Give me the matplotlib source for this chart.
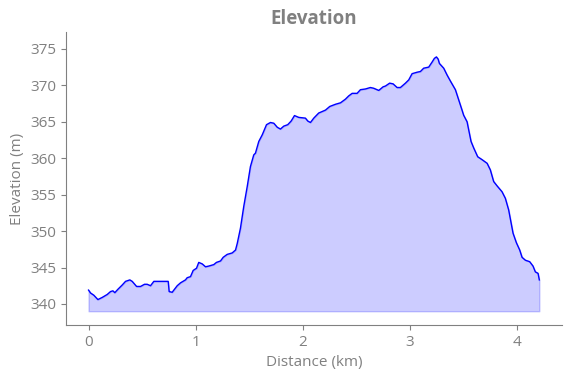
import matplotlib.pyplot as plt

plt.rcParams['font.family'] = ['Open Sans', 'DejaVu Sans']

# distance (km) and elevation (m)
distance = [0.000, 0.019, 0.049, 0.087, 0.128, 0.174, 0.205, 0.227, 0.245, 0.273,
            0.314, 0.345, 0.385, 0.407, 0.448, 0.485, 0.522, 0.547, 0.578, 0.609,
            0.743, 0.752, 0.780, 0.827, 0.858, 0.904, 0.920, 0.951, 0.976, 1.007,
            1.028, 1.060, 1.091, 1.122, 1.168, 1.193, 1.231, 1.256, 1.293, 1.340,
            1.371, 1.387, 1.417, 1.448, 1.480, 1.510, 1.541, 1.557, 1.588, 1.620,
            1.660, 1.697, 1.728, 1.760, 1.790, 1.821, 1.858, 1.890, 1.921, 1.961,
            2.023, 2.045, 2.070, 2.101, 2.147, 2.210, 2.250, 2.303, 2.350, 2.396,
            2.427, 2.459, 2.505, 2.536, 2.583, 2.629, 2.660, 2.707, 2.748, 2.769,
            2.809, 2.841, 2.878, 2.909, 2.956, 2.987, 3.018, 3.065, 3.096, 3.126,
            3.173, 3.205, 3.226, 3.245, 3.261, 3.273, 3.313, 3.345, 3.375, 3.422,
            3.453, 3.484, 3.499, 3.531, 3.546, 3.568, 3.593, 3.630, 3.671, 3.718,
            3.748, 3.779, 3.811, 3.857, 3.888, 3.919, 3.942, 3.960, 3.991, 4.022,
            4.044, 4.075, 4.115, 4.146, 4.168, 4.193, 4.205]
elevation = [341.9, 341.5, 341.2, 340.6, 340.9, 341.3, 341.7, 341.8, 341.55, 342.0,
             342.6, 343.1, 343.3, 343.1, 342.4, 342.4, 342.7, 342.7, 342.5, 343.1,
             343.1, 341.7, 341.6, 342.5, 342.9, 343.3, 343.6, 343.75, 344.6, 344.9,
             345.7, 345.5, 345.1, 345.2, 345.4, 345.7, 345.9, 346.4, 346.8, 347.0,
             347.4, 348.3, 350.4, 353.4, 356.1, 358.85, 360.45, 360.7, 362.3, 363.2,
             364.6, 364.9, 364.8, 364.25, 364.0, 364.4, 364.6, 365.1, 365.85, 365.6,
             365.5, 365.1, 364.9, 365.5, 366.2, 366.6, 367.1, 367.4, 367.6, 368.1,
             368.55, 368.9, 368.9, 369.4, 369.5, 369.7, 369.6, 369.3, 369.8, 369.9,
             370.3, 370.2, 369.7, 369.7, 370.3, 370.75, 371.6, 371.8, 371.9, 372.35,
             372.5, 373.2, 373.7, 373.9, 373.6, 373.0, 372.35, 371.4, 370.6, 369.4,
             368.0, 366.6, 365.9, 365.0, 363.9, 362.3, 361.4, 360.2, 359.8, 359.3,
             358.4, 356.8, 356.2, 355.4, 354.5, 352.9, 351.1, 349.7, 348.4, 347.4,
             346.4, 346.0, 345.8, 345.2, 344.4, 344.2, 343.3]
base = 339

fig = plt.figure(figsize=(5.71, 3.78), dpi=100)
ax = fig.add_axes([0.1156, 0.140, 0.8684, 0.775])

ax.plot(distance, elevation, color='blue', lw=1)
ax.fill_between(distance, elevation, base, color='blue', alpha=0.2)

ax.set_ylim(337.1, 377.3)
ax.set_xticks([0, 1, 2, 3, 4])
ax.set_yticks([340, 345, 350, 355, 360, 365, 370, 375])

grey = '#808080'
ax.set_title('Elevation', color=grey, fontsize=13.5, fontweight='bold', pad=6)
ax.set_xlabel('Distance (km)', color=grey, fontsize=11)
ax.set_ylabel('Elevation (m)', color=grey, fontsize=11)
ax.tick_params(colors=grey, labelsize=11)
for side in ['top', 'right']:
    ax.spines[side].set_visible(False)
for side in ['left', 'bottom']:
    ax.spines[side].set_color(grey)

fig.savefig('out.png', dpi=100)
